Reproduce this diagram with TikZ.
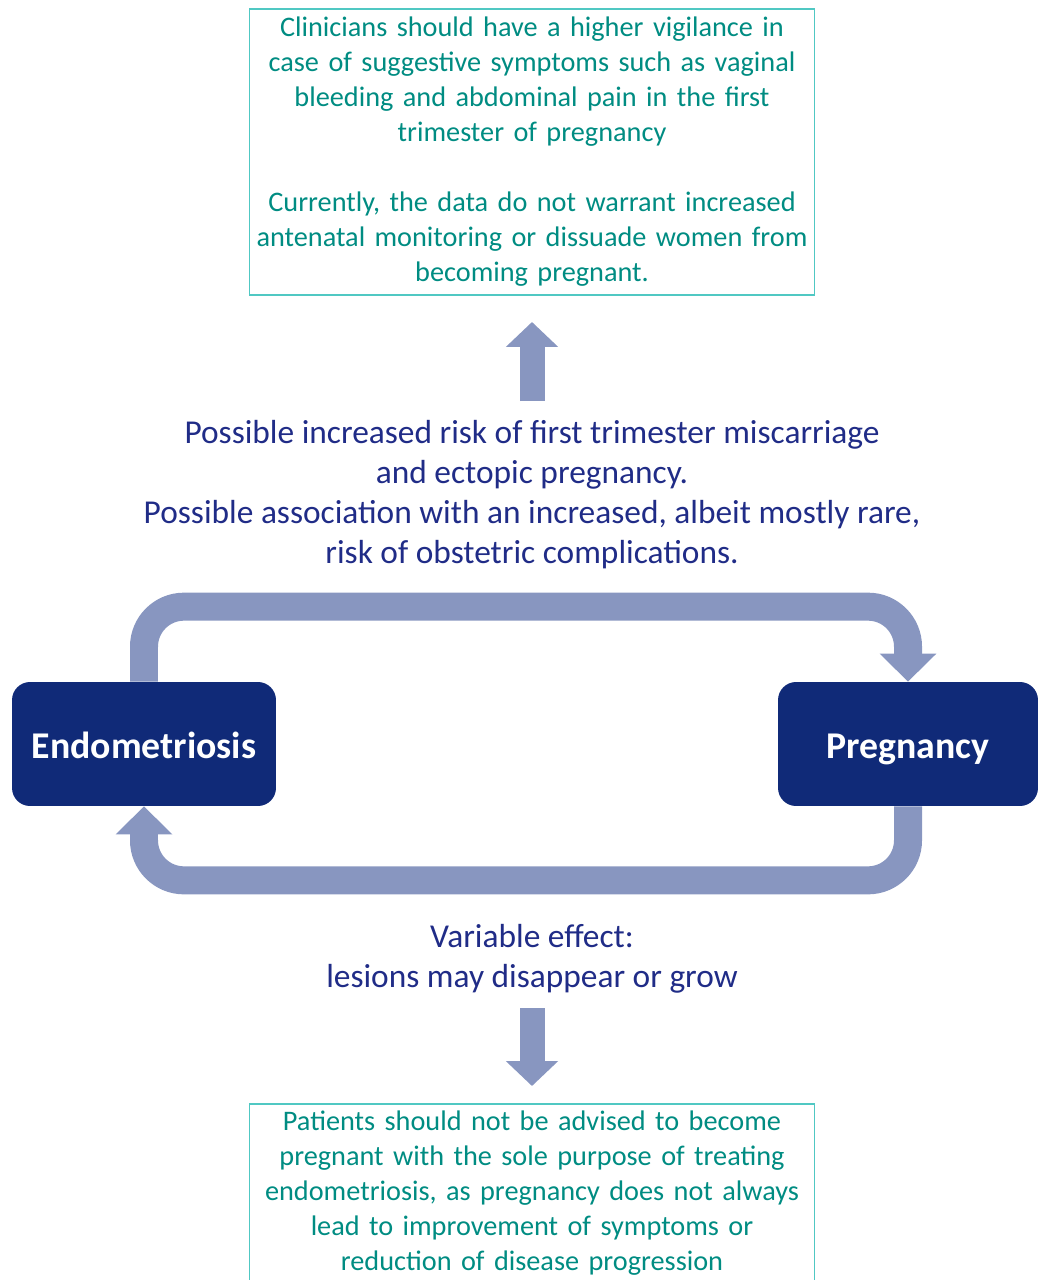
\documentclass[tikz,border=0pt]{standalone}
\usepackage{fontspec}
\setmainfont{Carlito}
\usetikzlibrary{arrows.meta}
\definecolor{navy}{RGB}{16,42,120}
\definecolor{midnavy}{RGB}{32,44,135}
\definecolor{tealtext}{RGB}{0,140,130}
\definecolor{tealline}{RGB}{80,200,195}
\definecolor{arrowblue}{RGB}{136,150,192}
\begin{document}
\begin{tikzpicture}[x=0.02cm,y=-0.02cm,
  advice/.style={draw=tealline,line width=0.8pt,text=tealtext,text width=11.3cm,
    align=center,inner sep=0pt,font=\fontsize{16.1}{19.9}\selectfont},
  term/.style={fill=navy,rounded corners=0.36cm,minimum height=2.48cm,
    text height=19pt,text depth=0.45ex,
    text=white,font=\fontsize{21.5}{24}\selectfont\bfseries},
  finding/.style={text=midnavy,align=center,font=\fontsize{19}{22.8}\selectfont},
  looparrow/.style={draw=arrowblue,line width=0.56cm,
    -{Triangle[width=1.1cm,length=0.56cm]}},
  fatarrow/.style={draw=arrowblue,line width=0.5cm,
    -{Triangle[width=1.02cm,length=0.5cm]}}]
  \useasboundingbox (0,0) rectangle (1038,1280);
  % boxes
  \node[advice,minimum height=5.72cm] (top) at (532,152) {Clinicians should have a higher vigilance in\\
    case of suggestive symptoms such as vaginal\\
    bleeding and abdominal pain in the first\\
    trimester of pregnancy\\[0.7cm]
    Currently, the data do not warrant increased\\
    antenatal monitoring or dissuade women from\\
    becoming pregnant.};
  \node[finding] (risk) at (532,495) {Possible increased risk of first trimester miscarriage\\
    and ectopic pregnancy.\\
    Possible association with an increased, albeit mostly rare,\\
    risk of obstetric complications.};
  \node[term,minimum width=5.28cm] (endo) at (144,744) {Endometriosis};
  \node[term,minimum width=5.2cm] (preg) at (908,744) {Pregnancy};
  \node[finding] (effect) at (532,959) {Variable effect:\\ lesions may disappear or grow};
  \node[advice,minimum height=3.58cm] (bottom) at (532,1193.5) {Patients should not be advised to become\\
    pregnant with the sole purpose of treating\\
    endometriosis, as pregnancy does not always\\
    lead to improvement of symptoms or\\
    reduction of disease progression};
  % arrows
  \coordinate (upfoot) at (532,401);
  \coordinate (uptip) at (532,322);
  \coordinate (downtop) at (532,1008);
  \coordinate (downtip) at (532,1086);
  \draw[fatarrow] (upfoot) -- (uptip);
  \draw[fatarrow] (downtop) -- (downtip);
  \draw[looparrow] (endo.north) [rounded corners=0.8cm] -- ++(0,-75) -| (preg.north);
  \draw[looparrow] (preg.south) [rounded corners=0.8cm] -- ++(0,74) -| (endo.south);
\end{tikzpicture}
\end{document}
